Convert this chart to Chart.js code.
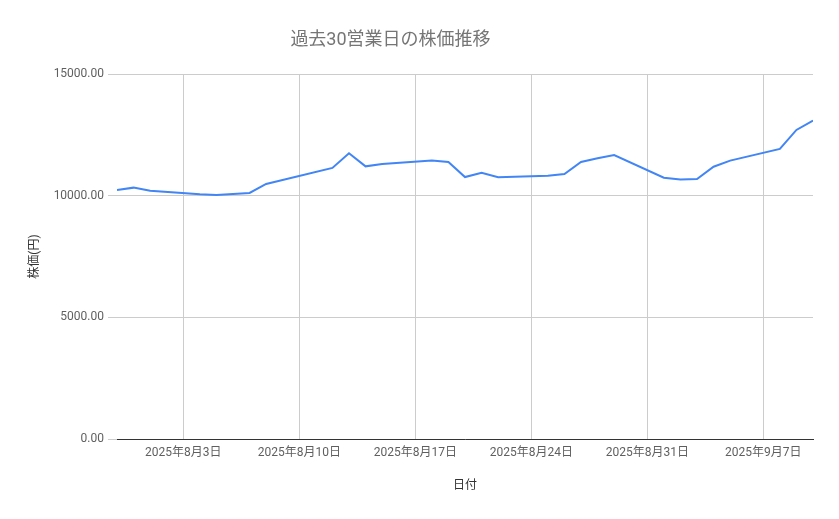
<!DOCTYPE html>
<html lang="ja">
<head>
    <meta charset="UTF-8">
    <title>過去30営業日の株価推移</title>
    <script src="https://cdn.jsdelivr.net/npm/chart.js"></script>
    <style>
        html, body {
            margin: 0;
            padding: 0;
            background: #ffffff;
        }
        .wrap {
            position: relative;
            width: 839px;
            height: 519px;
        }
        .chart-title {
            position: absolute;
            left: 0;
            top: 27px;
            width: 781px;
            text-align: center;
            font-family: Roboto, "Noto Sans CJK JP", sans-serif;
            font-size: 18px;
            line-height: 24px;
            color: #757575;
        }
    </style>
</head>
<body>
    <div class="wrap">
        <canvas id="priceChart" width="839" height="519"></canvas>
        <div class="chart-title">過去30営業日の株価推移</div>
    </div>

    <script>
        // 営業日（8/11 山の日は休場）
        const dates = [
            '2025-07-30', '2025-07-31', '2025-08-01',
            '2025-08-04', '2025-08-05', '2025-08-06', '2025-08-07', '2025-08-08',
            '2025-08-12', '2025-08-13', '2025-08-14', '2025-08-15',
            '2025-08-18', '2025-08-19', '2025-08-20', '2025-08-21', '2025-08-22',
            '2025-08-25', '2025-08-26', '2025-08-27', '2025-08-28', '2025-08-29',
            '2025-09-01', '2025-09-02', '2025-09-03', '2025-09-04', '2025-09-05',
            '2025-09-08', '2025-09-09', '2025-09-10'
        ];

        // 終値（円）
        const prices = [
            10230, 10330, 10205,
            10055, 10030, 10065, 10110, 10480,
            11140, 11740, 11205, 11300,
            11440, 11385, 10765, 10945, 10755,
            10820, 10890, 11385, 11535, 11670,
            10740, 10660, 10685, 11190, 11440,
            11920, 12700, 13085
        ];

        // 横軸の目盛（日曜）
        const tickDates = ['2025-08-03', '2025-08-10', '2025-08-17', '2025-08-24', '2025-08-31', '2025-09-07'];
        const tickLabels = ['2025年8月3日', '2025年8月10日', '2025年8月17日', '2025年8月24日', '2025年8月31日', '2025年9月7日'];

        // 縦軸の目盛
        const yTicks = [0, 5000, 10000, 15000];

        const axisStart = '2025-07-30';
        const axisEnd = '2025-09-10';

        // 日付 → 日数
        function dayNum(s) {
            const p = s.split('-').map(Number);
            return Date.UTC(p[0], p[1] - 1, p[2]) / 86400000;
        }

        const font = { family: 'Roboto, "Noto Sans CJK JP", sans-serif', size: 12 };

        window.onload = function() {
            new Chart(document.getElementById('priceChart'), {
                type: 'line',
                data: {
                    datasets: [{
                        label: '株価',
                        data: dates.map((d, i) => ({ x: dayNum(d), y: prices[i] })),
                        borderColor: '#4285f4',
                        backgroundColor: '#4285f4',
                        borderWidth: 2,
                        pointRadius: 0,
                        tension: 0
                    }]
                },
                options: {
                    responsive: false,
                    animation: false,
                    layout: {
                        padding: { top: 74, right: 26, left: 28, bottom: 0 }
                    },
                    plugins: {
                        legend: { display: false },
                        tooltip: { enabled: false }
                    },
                    scales: {
                        x: {
                            type: 'linear',
                            min: dayNum(axisStart),
                            max: dayNum(axisEnd),
                            afterBuildTicks: function(scale) {
                                scale.ticks = tickDates.map(d => ({ value: dayNum(d) }));
                            },
                            afterFit: function(scale) {
                                scale.height = 80;
                            },
                            ticks: {
                                autoSkip: false,
                                maxRotation: 0,
                                padding: 7,
                                color: '#5f5f5f',
                                font: font,
                                callback: function(value) {
                                    const i = tickDates.findIndex(d => dayNum(d) === value);
                                    return i >= 0 ? tickLabels[i] : '';
                                }
                            },
                            grid: {
                                color: '#cccccc',
                                drawTicks: false
                            },
                            border: {
                                display: true,
                                color: '#333333',
                                width: 1
                            },
                            title: {
                                display: true,
                                text: '日付',
                                color: '#333333',
                                font: font,
                                padding: { top: 4, bottom: 26 }
                            }
                        },
                        y: {
                            min: 0,
                            max: 15000,
                            afterBuildTicks: function(scale) {
                                scale.ticks = yTicks.map(v => ({ value: v }));
                            },
                            afterFit: function(scale) {
                                scale.width = 89;
                            },
                            ticks: {
                                padding: 4,
                                color: '#5f5f5f',
                                font: font,
                                callback: function(value) {
                                    return value.toFixed(2);
                                }
                            },
                            grid: {
                                color: '#cccccc',
                                tickLength: 9
                            },
                            border: {
                                display: false
                            },
                            title: {
                                display: true,
                                text: '株価(円)',
                                color: '#333333',
                                font: font,
                                padding: { top: 0, bottom: 0 }
                            }
                        }
                    }
                }
            });
        };
    </script>
</body>
</html>
